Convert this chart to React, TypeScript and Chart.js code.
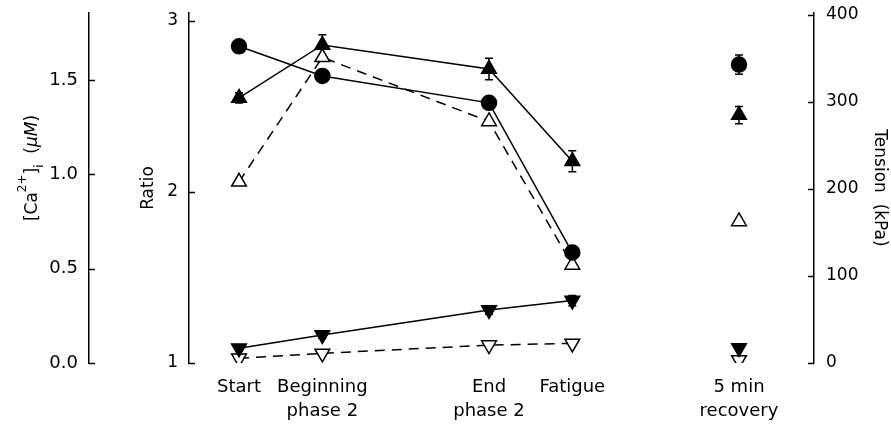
import React, { useEffect, useRef } from "react";
import { Chart, registerables } from "chart.js";

Chart.register(...registerables);

// x positions of the five stages (linear spacing as in the figure)
const xPositions = [0, 1, 3, 4, 6];
const xLabels: string[][] = [
  ["Start"],
  ["Beginning", "phase 2"],
  ["End", "phase 2"],
  ["Fatigue"],
  ["5 min", "recovery"],
];

const caTicks = [0, 0.5, 1.0, 1.5];
const ratioTicks = [1, 2, 3];
const tensionTicks = [0, 100, 200, 300, 400];

// Tension (kPa) – filled circles
const tension = [364, 330, 299, 127, 343];
const tensionErr = [4, 4, 5, 7, 11];
// Tetanic fura-2 ratio – filled up triangles
const tetanicRatio = [2.55, 2.86, 2.72, 2.18, 2.45];
const tetanicRatioErr = [0.03, 0.06, 0.063, 0.062, 0.05];
// Tetanic [Ca2+]i (µM) – open up triangles
const tetanicCa = [0.96, 1.62, 1.28, 0.52, 0.75];
// Resting ratio – filled down triangles
const restingRatio = [1.086, 1.164, 1.31, 1.365, 1.088];
const restingRatioErr = [0.015, 0.02, 0.025, 0.03, 0.015];
// Resting [Ca2+]i (µM) – open down triangles
const restingCa = [0.025, 0.051, 0.095, 0.104, 0.016];

const FONT = '"DejaVu Sans", sans-serif';

// first four stages joined by a line, recovery point isolated (null breaks the line)
function toPoints(values: number[]) {
  const pts: { x: number; y: number | null }[] = [];
  values.forEach((v, i) => {
    if (i === 4) pts.push({ x: 5, y: null });
    pts.push({ x: xPositions[i], y: v });
  });
  return pts;
}
function toErr(errs: number[]) {
  const out: (number | null)[] = [];
  errs.forEach((e, i) => {
    if (i === 4) out.push(null);
    out.push(e);
  });
  return out;
}

const extrasPlugin = {
  id: "figureExtras",
  beforeDatasetsDraw(chart: any) {
    const ctx = chart.ctx;
    ctx.save();
    ctx.strokeStyle = "#000";
    ctx.lineWidth = 1.5;
    chart.data.datasets.forEach((ds: any) => {
      if (!ds.errors) return;
      const ys = chart.scales[ds.yAxisID];
      const xs = chart.scales.x;
      ds.data.forEach((p: any, j: number) => {
        const e = ds.errors[j];
        if (p.y == null || e == null) return;
        const x = xs.getPixelForValue(p.x);
        const y1 = ys.getPixelForValue(p.y + e);
        const y2 = ys.getPixelForValue(p.y - e);
        ctx.beginPath();
        ctx.moveTo(x, y1);
        ctx.lineTo(x, y2);
        ctx.moveTo(x - 4, y1);
        ctx.lineTo(x + 4, y1);
        ctx.moveTo(x - 4, y2);
        ctx.lineTo(x + 4, y2);
        ctx.stroke();
      });
    });
    ctx.restore();
  },
  afterDraw(chart: any) {
    const ctx = chart.ctx;
    ctx.save();
    ctx.strokeStyle = "#000";
    ctx.lineWidth = 1.5;
    const defs: [string, number][] = [
      ["yCa", 1],
      ["yRatio", 1],
      ["yTension", -1],
    ];
    defs.forEach(([id, dir]) => {
      const s = chart.scales[id];
      const x0 = dir > 0 ? s.right : s.left;
      s.ticks.forEach((t: any) => {
        const y = Math.round(s.getPixelForValue(t.value)) + 0.5;
        ctx.beginPath();
        ctx.moveTo(x0, y);
        ctx.lineTo(x0 + dir * 6, y);
        ctx.stroke();
      });
    });

    // [Ca2+]i (µM) title, rotated
    const s = chart.scales.yCa;
    const cy = (s.top + s.bottom) / 2 - 20;
    ctx.translate(33, cy);
    ctx.rotate(-Math.PI / 2);
    ctx.fillStyle = "#000";
    ctx.textBaseline = "middle";
    ctx.textAlign = "left";
    const big = `17px ${FONT}`;
    const small = `12px ${FONT}`;
    const ital = `italic 17px ${FONT}`;
    const parts = [
      { t: "[Ca", f: big, dy: 0 },
      { t: "2+", f: small, dy: -10 },
      { t: "]", f: big, dy: 0 },
      { t: "i", f: small, dy: 7 },
      { t: "  (", f: big, dy: 0 },
      { t: "\u03BCM", f: ital, dy: 0 },
      { t: ")", f: big, dy: 0 },
    ];
    let total = 0;
    const widths = parts.map((p) => {
      ctx.font = p.f;
      const w = ctx.measureText(p.t).width;
      total += w;
      return w;
    });
    let x = -total / 2;
    parts.forEach((p, i) => {
      ctx.font = p.f;
      ctx.fillText(p.t, x, p.dy);
      x += widths[i];
    });
    ctx.restore();
  },
};

export default function App() {
  const canvasRef = useRef<HTMLCanvasElement | null>(null);

  useEffect(() => {
    if (!canvasRef.current) return;
    Chart.defaults.color = "#000";
    Chart.defaults.font.family = FONT;

    const lineBase = {
      borderColor: "#000",
      borderWidth: 1.5,
      pointBorderColor: "#000",
      pointBorderWidth: 1.5,
      spanGaps: false,
      tension: 0,
    };

    const chart = new Chart(canvasRef.current, {
      type: "line",
      data: {
        datasets: [
          {
            ...lineBase,
            label: "Tension",
            yAxisID: "yTension",
            data: toPoints(tension),
            errors: toErr(tensionErr),
            pointStyle: "circle",
            pointRadius: 7.5,
            pointBackgroundColor: "#000",
          } as any,
          {
            ...lineBase,
            label: "Tetanic ratio",
            yAxisID: "yRatio",
            data: toPoints(tetanicRatio),
            errors: toErr(tetanicRatioErr),
            pointStyle: "triangle",
            pointRadius: 8.5,
            pointBackgroundColor: "#000",
          } as any,
          {
            ...lineBase,
            label: "Resting ratio",
            yAxisID: "yRatio",
            data: toPoints(restingRatio),
            errors: toErr(restingRatioErr),
            pointStyle: "triangle",
            pointRotation: 180,
            pointRadius: 8.5,
            pointBackgroundColor: "#000",
          } as any,
          {
            ...lineBase,
            label: "Tetanic [Ca2+]i",
            yAxisID: "yCa",
            data: toPoints(tetanicCa),
            borderDash: [10, 7],
            pointStyle: "triangle",
            pointRadius: 8.5,
            pointBackgroundColor: "#fff",
          } as any,
          {
            ...lineBase,
            label: "Resting [Ca2+]i",
            yAxisID: "yCa",
            data: toPoints(restingCa),
            borderDash: [10, 7],
            pointStyle: "triangle",
            pointRotation: 180,
            pointRadius: 8.5,
            pointBackgroundColor: "#fff",
          } as any,
        ],
      },
      options: {
        responsive: false,
        animation: false,
        events: [],
        layout: { padding: { top: 13, left: 0, right: 0, bottom: 0 } },
        plugins: {
          legend: { display: false },
          tooltip: { enabled: false },
          title: { display: false },
        },
        scales: {
          x: {
            type: "linear",
            position: "bottom",
            min: -0.6,
            max: 6.9,
            grid: { display: false, drawTicks: false },
            border: { display: false },
            afterBuildTicks: (scale: any) => {
              scale.ticks = xPositions.map((v) => ({ value: v }));
            },
            afterFit: (scale: any) => {
              scale.height = 63;
              scale.paddingLeft = 0;
              scale.paddingRight = 0;
            },
            ticks: {
              autoSkip: false,
              maxRotation: 0,
              padding: 13,
              font: { size: 18, family: FONT, lineHeight: 1.3 },
              color: "#000",
              callback: (value: any) => {
                const i = xPositions.indexOf(Number(value));
                return i >= 0 ? xLabels[i] : "";
              },
            },
          },
          yCa: {
            type: "linear",
            position: "left",
            weight: 2,
            min: 0,
            max: 1.855,
            grid: { display: false, drawTicks: false },
            border: { display: true, color: "#000", width: 1.5 },
            afterBuildTicks: (scale: any) => {
              scale.ticks = caTicks.map((v) => ({ value: v }));
            },
            afterFit: (scale: any) => {
              scale.width = 89;
              scale.paddingTop = 0;
              scale.paddingBottom = 0;
            },
            ticks: {
              padding: 11,
              font: { size: 18, family: FONT },
              color: "#000",
              callback: (v: any) => Number(v).toFixed(1),
            },
          },
          yRatio: {
            type: "linear",
            position: "left",
            weight: 1,
            min: 1,
            max: 3.047,
            grid: { display: false, drawTicks: false },
            border: { display: true, color: "#000", width: 1.5 },
            afterBuildTicks: (scale: any) => {
              scale.ticks = ratioTicks.map((v) => ({ value: v }));
            },
            afterFit: (scale: any) => {
              scale.width = 100;
              scale.paddingTop = 0;
              scale.paddingBottom = 0;
            },
            title: {
              display: true,
              text: "Ratio",
              color: "#000",
              font: { size: 17, family: FONT },
              padding: { top: 49, bottom: 0 },
            },
            ticks: {
              padding: 11,
              font: { size: 17, family: FONT },
              color: "#000",
              callback: (v: any) => String(v),
            },
          },
          yTension: {
            type: "linear",
            position: "right",
            min: 0,
            max: 402.3,
            grid: { display: false, drawTicks: false },
            border: { display: true, color: "#000", width: 1.5 },
            afterBuildTicks: (scale: any) => {
              scale.ticks = tensionTicks.map((v) => ({ value: v }));
            },
            afterFit: (scale: any) => {
              scale.width = 77;
              scale.paddingTop = 0;
              scale.paddingBottom = 0;
            },
            title: {
              display: true,
              text: "Tension  (kPa)",
              color: "#000",
              font: { size: 17, family: FONT },
              padding: { top: 1, bottom: 0 },
            },
            ticks: {
              padding: 12,
              font: { size: 17, family: FONT },
              color: "#000",
              callback: (v: any) => String(v),
            },
          },
        },
      } as any,
      plugins: [extrasPlugin],
    });

    return () => chart.destroy();
  }, []);

  return (
    <div style={{ position: "fixed", left: 0, top: 0, width: 891, height: 426, background: "#fff" }}>
      <canvas ref={canvasRef} width={891} height={426} style={{ width: 891, height: 426, display: "block" }} />
    </div>
  );
}
